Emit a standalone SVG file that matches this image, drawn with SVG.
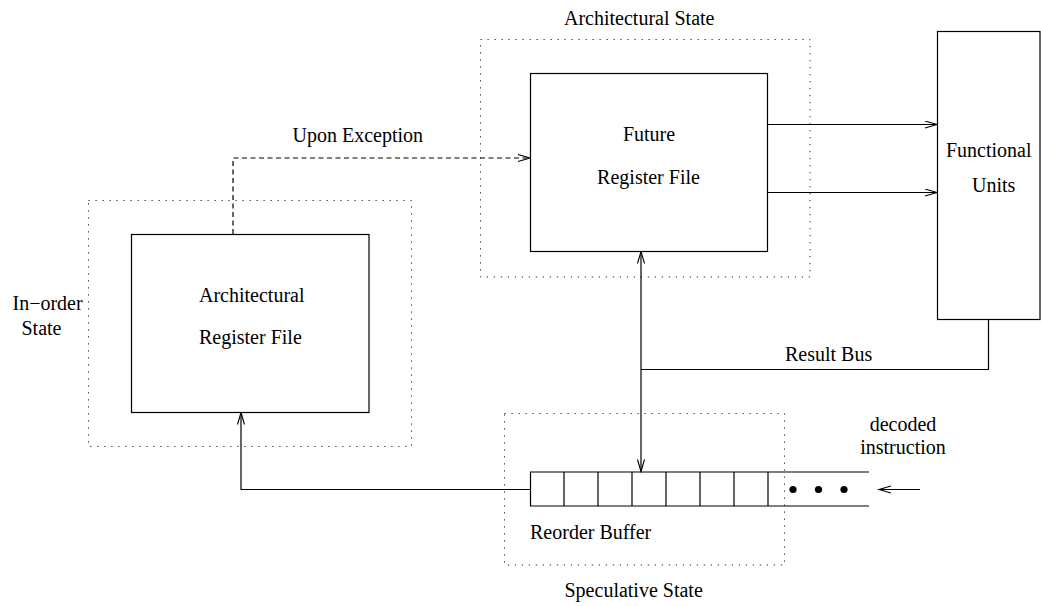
<svg xmlns="http://www.w3.org/2000/svg" width="1041" height="606" viewBox="0 0 1041 606">
  <style>
    .box { fill: #fff; stroke: #000; stroke-width: 1.2; }
    .region { fill: none; stroke: #222; stroke-width: 1; stroke-dasharray: 1.2 5.8; }
    .wire { fill: none; stroke: #000; stroke-width: 1.2; }
    .dash { fill: none; stroke: #000; stroke-width: 1.2; stroke-dasharray: 5 3.5; }
    .lbl { font-family: "Liberation Serif", "Times New Roman", serif; font-size: 20px; fill: #000; }
    .mid { text-anchor: middle; }
  </style>
  <defs>
    <marker id="arrow" markerUnits="userSpaceOnUse" markerWidth="16" markerHeight="10" refX="13" refY="4" orient="auto-start-reverse">
      <path d="M1,0.5 L13,4 L1,7.5" fill="none" stroke="#000" stroke-width="1.1"/>
    </marker>
  </defs>

  <!-- state regions (dotted outlines) -->
  <g id="architectural-state">
    <rect class="region" x="480.5" y="39.5" width="329.5" height="237.5"/>
    <text class="lbl" x="564" y="25">Architectural State</text>
  </g>
  <g id="in-order-state">
    <rect class="region" x="88.5" y="200.5" width="323" height="246"/>
    <text class="lbl" x="12.5" y="310">In−order</text>
    <text class="lbl" x="21.5" y="335">State</text>
  </g>
  <g id="speculative-state">
    <rect class="region" x="504.5" y="413.5" width="280" height="151.5"/>
    <text class="lbl" x="564.5" y="597">Speculative State</text>
  </g>

  <!-- connectors -->
  <g id="connectors">
    <path class="dash" d="M233,234 V158 H530" marker-end="url(#arrow)"/>
    <text class="lbl" x="292.5" y="141.5">Upon Exception</text>
    <path class="wire" d="M767.5,124.5 H937" marker-end="url(#arrow)"/>
    <path class="wire" d="M767.5,192.5 H937" marker-end="url(#arrow)"/>
    <path class="wire" d="M641,251.5 V471.5" marker-start="url(#arrow)" marker-end="url(#arrow)"/>
    <path class="wire" d="M988.5,319 V369.5 H641"/>
    <text class="lbl" x="785" y="361">Result Bus</text>
    <path class="wire" d="M530,489.5 H241 V412.5" marker-end="url(#arrow)"/>
    <path class="wire" d="M920,489.5 H879" marker-end="url(#arrow)"/>
  </g>

  <!-- register files -->
  <g id="future-register-file">
    <rect class="box" x="530.5" y="73.5" width="237" height="178"/>
    <text class="lbl mid" x="649" y="141">Future</text>
    <text class="lbl mid" x="648.5" y="184">Register File</text>
  </g>
  <g id="architectural-register-file">
    <rect class="box" x="131.5" y="234.5" width="237.5" height="178"/>
    <text class="lbl" x="199" y="302">Architectural</text>
    <text class="lbl" x="199" y="344">Register File</text>
  </g>

  <!-- functional units -->
  <g id="functional-units">
    <rect class="box" x="937.5" y="31.5" width="102.5" height="288"/>
    <text class="lbl" x="946" y="157">Functional</text>
    <text class="lbl" x="972" y="192">Units</text>
  </g>

  <!-- reorder buffer: open-ended queue of slots -->
  <g id="reorder-buffer">
    <path class="wire" d="M869,472 H530.5 V506 H869"/>
    <path class="wire" d="M564,472 V506 M598,472 V506 M632,472 V506 M666,472 V506 M700,472 V506 M734,472 V506 M768,472 V506"/>
    <circle cx="793" cy="489.5" r="3.6" fill="#000"/>
    <circle cx="818.5" cy="489.5" r="3.6" fill="#000"/>
    <circle cx="844" cy="489.5" r="3.6" fill="#000"/>
    <text class="lbl" x="530" y="539">Reorder Buffer</text>
  </g>

  <g id="decoded-instruction">
    <text class="lbl mid" x="903" y="431">decoded</text>
    <text class="lbl mid" x="903" y="454">instruction</text>
  </g>
</svg>
